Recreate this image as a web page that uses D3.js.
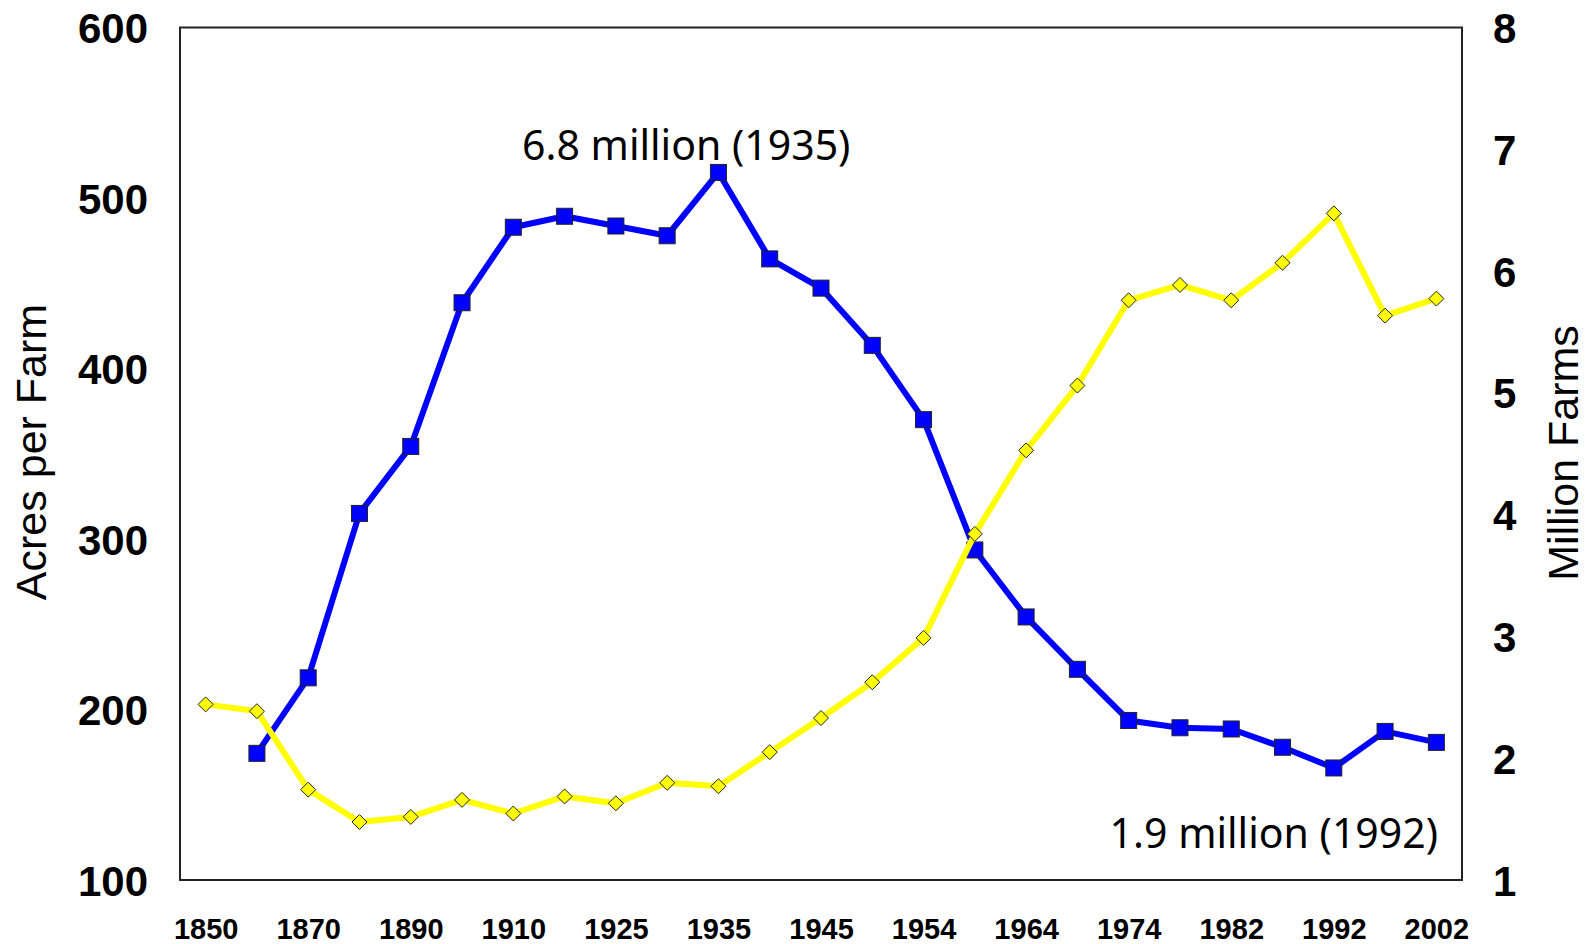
<!DOCTYPE html>
<html>
<head>
<meta charset="utf-8">
<script src="https://cdn.jsdelivr.net/npm/d3@7"></script>
<style>
    body { margin: 0; background: #fff; }
    svg { display: block; }
    .axis path, .axis line { display: none; }
    .axis text { font-family: "Liberation Sans", Arial, sans-serif; font-weight: bold; fill: #000; }
</style>
</head>
<body>
<script>
// census years, one point per year
var years = ["1850", "1860", "1870", "1880", "1890", "1900", "1910", "1920", "1925", "1930",
    "1935", "1940", "1945", "1950", "1954", "1959", "1964", "1969", "1974", "1978",
    "1982", "1987", "1992", "1997", "2002"];
var yearLabels = ["1850", "1870", "1890", "1910", "1925", "1935", "1945", "1954", "1964",
    "1974", "1982", "1992", "2002"];

// acres per farm (left axis), yellow
var acresPerFarm = [203, 199, 153, 134, 137, 147, 139, 149, 145, 157,
    155, 175, 195, 216, 242, 303, 352, 390, 440, 449,
    440, 462, 491, 431, 441];

// million farms (right axis), blue; no value for 1850
var millionFarms = [null, 2.04, 2.66, 4.01, 4.56, 5.74, 6.36, 6.45, 6.37, 6.29,
    6.81, 6.10, 5.86, 5.39, 4.78, 3.71, 3.16, 2.73, 2.31, 2.25,
    2.24, 2.09, 1.92, 2.22, 2.13];

var acresTicks = [100, 200, 300, 400, 500, 600];
var farmTicks = [1, 2, 3, 4, 5, 6, 7, 8];

var W = 1589, H = 944;
var plotL = 180, plotR = 1462, plotT = 27.5, plotB = 880;

var svg = d3.select("body").append("svg").attr("width", W).attr("height", H);

var x = d3.scalePoint().domain(years).range([plotL, plotR]).padding(0.5);
var yLeft = d3.scaleLinear().domain([100, 600]).range([plotB, plotT]);
var yRight = d3.scaleLinear().domain([1, 8]).range([plotB, plotT]);

// axes
var gx = svg.append("g").attr("class", "axis")
    .attr("transform", "translate(0," + plotB + ")")
    .call(d3.axisBottom(x).tickValues(yearLabels).tickSize(0).tickPadding(0));
gx.selectAll("text").attr("font-size", 29).attr("dy", null).attr("y", 59);

var gl = svg.append("g").attr("class", "axis")
    .attr("transform", "translate(" + plotL + ",0)")
    .call(d3.axisLeft(yLeft).tickValues(acresTicks).tickFormat(d3.format("d"))
        .tickSize(0).tickPadding(32));
gl.selectAll("text").attr("font-size", 42).attr("dy", "0.36em");

var gr = svg.append("g").attr("class", "axis")
    .attr("transform", "translate(" + plotR + ",0)")
    .call(d3.axisRight(yRight).tickValues(farmTicks).tickFormat(d3.format("d"))
        .tickSize(0).tickPadding(31));
gr.selectAll("text").attr("font-size", 42).attr("dy", "0.36em");

// frame
svg.append("rect")
    .attr("x", plotL).attr("y", plotT)
    .attr("width", plotR - plotL).attr("height", plotB - plotT)
    .attr("fill", "none").attr("stroke", "#222").attr("stroke-width", 2);

// axis titles
svg.append("text").text("Acres per Farm")
    .attr("transform", "translate(46," + 452 + ") rotate(-90)")
    .attr("text-anchor", "middle")
    .attr("font-family", "'Liberation Sans', Arial, sans-serif")
    .attr("font-size", 43);

svg.append("text").text("Million Farms")
    .attr("transform", "translate(1578," + 453 + ") rotate(-90)")
    .attr("text-anchor", "middle")
    .attr("font-family", "'Liberation Sans', Arial, sans-serif")
    .attr("font-size", 43);

// farms series (blue squares)
var farmPts = years.map(function (y, i) { return { year: y, v: millionFarms[i] }; })
    .filter(function (d) { return d.v != null; });

var farmLine = d3.line()
    .x(function (d) { return x(d.year); })
    .y(function (d) { return yRight(d.v); });

svg.append("path").datum(farmPts)
    .attr("d", farmLine)
    .attr("fill", "none").attr("stroke", "#0000ff").attr("stroke-width", 6)
    .attr("stroke-linejoin", "round");

var sq = 16;
svg.selectAll("rect.farm").data(farmPts).enter().append("rect")
    .attr("class", "farm")
    .attr("x", function (d) { return x(d.year) - sq / 2; })
    .attr("y", function (d) { return yRight(d.v) - sq / 2; })
    .attr("width", sq).attr("height", sq)
    .attr("fill", "#0000ff").attr("stroke", "#222").attr("stroke-width", 1);

// acres series (yellow diamonds)
var acrePts = years.map(function (y, i) { return { year: y, v: acresPerFarm[i] }; });

var acreLine = d3.line()
    .x(function (d) { return x(d.year); })
    .y(function (d) { return yLeft(d.v); });

svg.append("path").datum(acrePts)
    .attr("d", acreLine)
    .attr("fill", "none").attr("stroke", "#ffff00").attr("stroke-width", 6)
    .attr("stroke-linejoin", "round");

var dm = 7.5;
svg.selectAll("path.acre").data(acrePts).enter().append("path")
    .attr("class", "acre")
    .attr("d", function (d) {
        var cx = x(d.year), cy = yLeft(d.v);
        return "M" + cx + "," + (cy - dm) + "L" + (cx + dm) + "," + cy +
            "L" + cx + "," + (cy + dm) + "L" + (cx - dm) + "," + cy + "Z";
    })
    .attr("fill", "#ffff00").attr("stroke", "#222").attr("stroke-width", 1);

// annotations
svg.append("text").text("6.8 million (1935)")
    .attr("x", 522).attr("y", 160)
    .attr("font-family", "'Noto Sans', sans-serif")
    .attr("font-size", 41);

svg.append("text").text("1.9 million (1992)")
    .attr("x", 1438).attr("y", 848)
    .attr("text-anchor", "end")
    .attr("font-family", "'Noto Sans', sans-serif")
    .attr("font-size", 41);
</script>
</body>
</html>
